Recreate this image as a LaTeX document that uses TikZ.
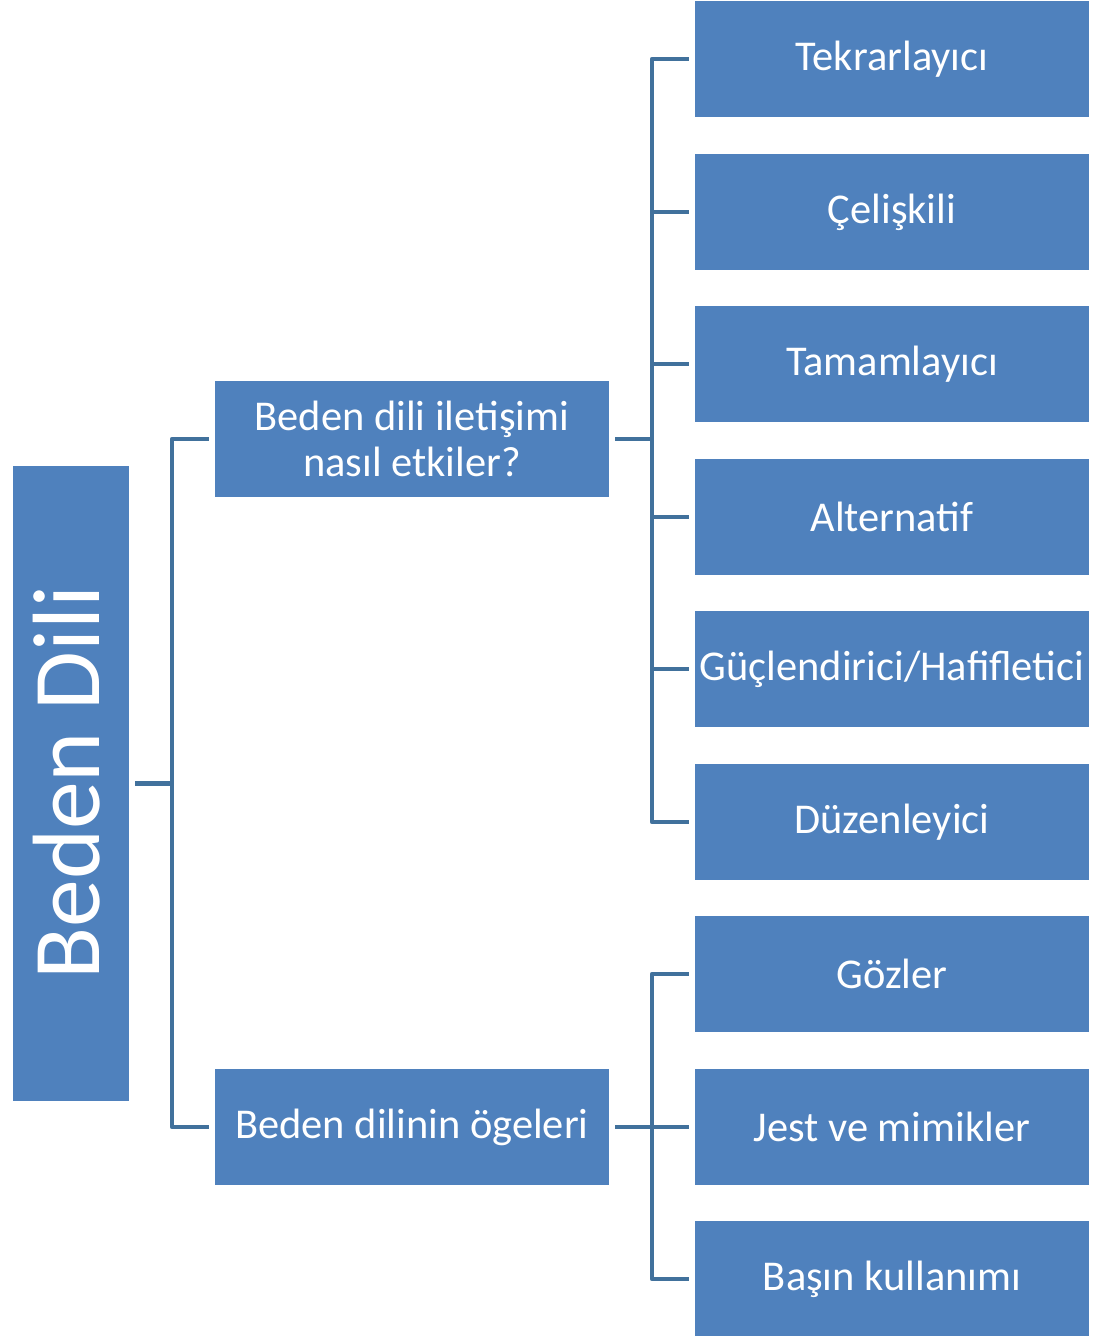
\documentclass[tikz,border=0pt]{standalone}
\usepackage{fontspec}
\setmainfont{Carlito}
\usepackage{xcolor}
\usepackage{tikz}
\usetikzlibrary{calc, positioning}

\definecolor{kutumavi}{HTML}{4F81BD}
\definecolor{cizgimavi}{HTML}{41719C}

\tikzset{
    kutu/.style={fill=kutumavi, text=white, align=center, inner sep=0pt,
        minimum width=394bp, minimum height=116bp,
        font=\fontsize{42.6}{47}\selectfont},
    baglanti/.style={draw=cizgimavi, line width=4.5bp, line join=round}
}

\begin{document}
\begin{tikzpicture}[x=1bp, y=-1bp]
    \useasboundingbox (0,0) rectangle (1104,1336);
    % 1. Ana kutu
    \node[fill=kutumavi, text=white, inner sep=0pt, minimum width=116bp,
        minimum height=635bp] (kok) at (71,783.5) {};
    \node[text=white, rotate=90, font=\fontsize{96}{100}\selectfont]
        at ([xshift=-4bp, yshift=1bp]kok.center) {Beden Dili};

    % 2. Orta kutular
    \node[kutu] (etki) at (412,439) {Beden dili iletişimi\\nasıl etkiler?};
    \node[kutu] (ogeler) at (412,1127) {Beden dilinin ögeleri};

    % 3. Sağ kutular
    \node[kutu] (tekrar) at (892,59) {Tekrarlayıcı};
    \node[kutu] (celiski) at (892,212) {Çelişkili};
    \node[kutu] (tamam) at (892,364) {Tamamlayıcı};
    \node[kutu] (altern) at (892,517) {Alternatif};
    \node[kutu] (guclen) at (892,669) {Güçlendirici/Hafifletici};
    \node[kutu] (duzen) at (892,822) {Düzenleyici};
    \node[kutu] (gozler) at (892,974) {Gözler};
    \node[kutu] (jest) at (892,1127) {Jest ve mimikler};
    \node[kutu] (basin) at (892,1279) {Başın kullanımı};

    % 4. Bağlantılar
    \coordinate (govde) at (172,783.5);
    \draw[baglanti] ([xshift=6bp]kok.east) -- (govde) |- ([xshift=-6bp]etki.west);
    \draw[baglanti] (govde) |- ([xshift=-6bp]ogeler.west);

    \coordinate (dal1) at (652,439);
    \draw[baglanti] ([xshift=6bp]etki.east) -- (dal1);
    \foreach \k in {tekrar, celiski, tamam, altern, guclen, duzen}
        \draw[baglanti] (dal1) |- ([xshift=-6bp]\k.west);

    \coordinate (dal2) at (652,1127);
    \draw[baglanti] ([xshift=6bp]ogeler.east) -- (dal2);
    \foreach \k in {gozler, jest, basin}
        \draw[baglanti] (dal2) |- ([xshift=-6bp]\k.west);
\end{tikzpicture}
\end{document}
